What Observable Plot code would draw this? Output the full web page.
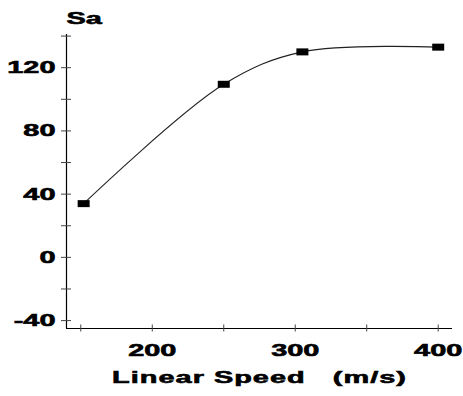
<!DOCTYPE html>
<html>
<head>
<meta charset="utf-8">
<script src="https://cdn.jsdelivr.net/npm/d3@7"></script>
<script src="https://cdn.jsdelivr.net/npm/@observablehq/plot@0.6"></script>
<style>
  html, body { margin: 0; padding: 0; background: #fff; }
  svg text { font-family: "Liberation Sans", Arial, sans-serif; font-weight: bold; }
</style>
</head>
<body>
<div id="chart"></div>
<script>
// Data
const speed = [152, 250, 305, 400];          // Linear Speed (m/s)
const sa = [34, 109.5, 130, 133];            // Sa
const xDomain = [140, 410];
const yDomain = [-45, 141];
const xTicksAll = [150, 200, 250, 300, 350, 400];
const xTickLabels = [200, 300, 400];
const yTicksAll = [-40, -20, 0, 20, 40, 60, 80, 100, 120, 140];
const yTickLabels = [-40, 0, 40, 80, 120];
const xTitle = "Linear Speed\u00a0\u00a0\u00a0(m/s)";
const yTitle = "Sa";

const data = speed.map((x, i) => ({x, y: sa[i]}));
const boxSymbol = { draw(ctx) { ctx.rect(-6, -3.5, 12, 7); } };

const chart = Plot.plot({
  width: 463,
  height: 396,
  marginLeft: 66,
  marginRight: 11,
  marginTop: 34,
  marginBottom: 68,
  style: { fontSize: "17px", color: "#000", background: "#fff" },
  x: { domain: xDomain },
  y: { domain: yDomain },
  marks: [
    Plot.ruleX([xDomain[0]], { stroke: "#000", strokeWidth: 1.2 }),
    Plot.ruleY([yDomain[0]], { stroke: "#000", strokeWidth: 1.2 }),
    Plot.axisY(yTicksAll, { tickSize: 10, dx: 5, tickFormat: () => "", label: null, stroke: "#444" }),
    Plot.axisY(yTickLabels, { tickSize: 0, tickPadding: 11, tickFormat: d => String(d), label: null, fontSize: 17, fill: "#000" }),
    Plot.axisX(xTicksAll, { tickSize: 7, dy: -3.5, tickFormat: () => "", label: null, stroke: "#444" }),
    Plot.axisX(xTickLabels, { tickSize: 0, tickPadding: 15, tickFormat: d => String(d), label: null, fontSize: 17, fill: "#000" }),
    Plot.line(data, { x: "x", y: "y", curve: "catmull-rom", stroke: "#222", strokeWidth: 1.1 }),
    Plot.dot(data, { x: "x", y: "y", symbol: boxSymbol, fill: "#000", stroke: "none" }),
    Plot.text([xTitle], { frameAnchor: "bottom", dy: 54, lineAnchor: "bottom", fontSize: 17, fill: "#000" }),
    Plot.text([yTitle], { frameAnchor: "top-left", dy: -11, lineAnchor: "bottom", fontSize: 17, fill: "#000" })
  ]
});

// Reference glyphs are horizontally stretched and heavy
chart.querySelectorAll("text").forEach(t => {
  const tr = t.getAttribute("transform") || "";
  t.setAttribute("transform", tr + " scale(1.7,1)");
  t.setAttribute("stroke", "#000");
  t.setAttribute("stroke-width", "0.6");
  if (t.textContent.includes("Linear")) t.setAttribute("letter-spacing", "0.6");
});
document.getElementById("chart").appendChild(chart);
</script>
</body>
</html>
